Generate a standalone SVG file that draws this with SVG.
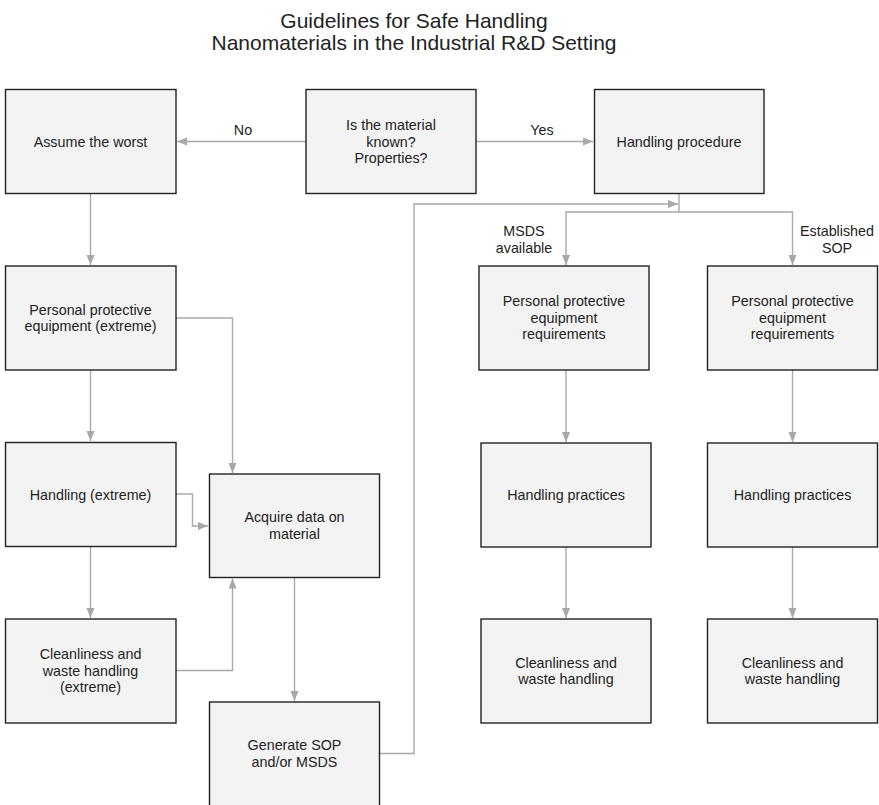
<svg xmlns="http://www.w3.org/2000/svg" width="879" height="805" viewBox="0 0 879 805">
<defs>
<style>
.box{fill:#f3f3f3;stroke:#222;stroke-width:1.4}
.t{font-family:"Liberation Sans",Arial,sans-serif;font-size:14.3px;fill:#222;text-anchor:middle}
.title{font-family:"Liberation Sans",Arial,sans-serif;font-size:21px;fill:#222;text-anchor:middle}
.c{fill:none;stroke:#a8a8a8;stroke-width:1.4}
.a{marker-end:url(#ah)}
</style>
<marker id="ah" markerUnits="userSpaceOnUse" markerWidth="11" markerHeight="9" refX="10" refY="4" orient="auto">
<path d="M0,0 L10,4 L0,8 z" fill="#a8a8a8"/>
</marker>
</defs>
<rect width="879" height="805" fill="#fff"/>
<g id="title">
<text class="title" x="414" y="28">Guidelines for Safe Handling</text>
<text class="title" x="414" y="50">Nanomaterials in the Industrial R&amp;D Setting</text>
</g>
<g id="connectors">
<path class="c a" d="M306,141.5 H177"/>
<path class="c a" d="M476,141.5 H593"/>
<path class="c a" d="M90.5,193 V265"/>
<path class="c a" d="M90.5,370 V441"/>
<path class="c a" d="M90.5,546.5 V618"/>
<path class="c a" d="M176,318 H232.5 V473"/>
<path class="c a" d="M176,494 H192.5 V526 H208"/>
<path class="c a" d="M176,670.5 H232.5 V578.5"/>
<path class="c a" d="M294.5,577.5 V701"/>
<path class="c a" d="M379.5,753.5 H414 V204 H678"/>
<path class="c" d="M679,193.5 V212"/>
<path class="c a" d="M679,212 H566 V265"/>
<path class="c a" d="M679,212 H792.5 V265"/>
<path class="c a" d="M566,370 V442"/>
<path class="c a" d="M566,547 V618"/>
<path class="c a" d="M792.5,370 V442"/>
<path class="c a" d="M792.5,547 V618"/>
<text class="t" x="243" y="135">No</text>
<text class="t" x="542" y="135">Yes</text>
<text class="t" x="524" y="236">MSDS</text>
<text class="t" x="524" y="252.5">available</text>
<text class="t" x="837" y="236">Established</text>
<text class="t" x="837" y="252.5">SOP</text>
</g>
<g id="assume_worst">
<rect class="box" x="5.5" y="89.5" width="170.5" height="104"/>
<text class="t" x="90.5" y="146.5">Assume the worst</text>
</g>
<g id="is_known">
<rect class="box" x="306" y="89.5" width="170" height="104"/>
<text class="t" x="391" y="130">Is the material</text>
<text class="t" x="391" y="146.5">known?</text>
<text class="t" x="391" y="163">Properties?</text>
</g>
<g id="handling_procedure">
<rect class="box" x="594.5" y="89.5" width="169.5" height="104"/>
<text class="t" x="679" y="146.5">Handling procedure</text>
</g>
<g id="ppe_extreme">
<rect class="box" x="5.5" y="266" width="170.5" height="104"/>
<text class="t" x="90.5" y="314.5">Personal protective</text>
<text class="t" x="90.5" y="331">equipment (extreme)</text>
</g>
<g id="handling_extreme">
<rect class="box" x="5.5" y="442.5" width="170.5" height="104"/>
<text class="t" x="90.5" y="499.5">Handling (extreme)</text>
</g>
<g id="cleanliness_extreme">
<rect class="box" x="5.5" y="619" width="170.5" height="104"/>
<text class="t" x="90.5" y="659">Cleanliness and</text>
<text class="t" x="90.5" y="675.5">waste handling</text>
<text class="t" x="90.5" y="692">(extreme)</text>
</g>
<g id="acquire_data">
<rect class="box" x="209.5" y="474" width="170" height="103.5"/>
<text class="t" x="294.5" y="522">Acquire data on</text>
<text class="t" x="294.5" y="538.5">material</text>
</g>
<g id="generate_sop">
<rect class="box" x="209.5" y="702" width="170" height="104"/>
<text class="t" x="294.5" y="750">Generate SOP</text>
<text class="t" x="294.5" y="766.5">and/or MSDS</text>
</g>
<g id="ppe_msds">
<rect class="box" x="479" y="266" width="170" height="104"/>
<text class="t" x="564" y="306">Personal protective</text>
<text class="t" x="564" y="322.5">equipment</text>
<text class="t" x="564" y="339">requirements</text>
</g>
<g id="ppe_sop">
<rect class="box" x="707.5" y="266" width="170" height="104"/>
<text class="t" x="792.5" y="306">Personal protective</text>
<text class="t" x="792.5" y="322.5">equipment</text>
<text class="t" x="792.5" y="339">requirements</text>
</g>
<g id="handling_msds">
<rect class="box" x="481" y="443" width="170" height="104"/>
<text class="t" x="566" y="499.5">Handling practices</text>
</g>
<g id="handling_sop">
<rect class="box" x="707.5" y="443" width="170" height="104"/>
<text class="t" x="792.5" y="499.5">Handling practices</text>
</g>
<g id="cleanliness_msds">
<rect class="box" x="481" y="619" width="170" height="104"/>
<text class="t" x="566" y="667.5">Cleanliness and</text>
<text class="t" x="566" y="684">waste handling</text>
</g>
<g id="cleanliness_sop">
<rect class="box" x="707.5" y="619" width="170" height="104"/>
<text class="t" x="792.5" y="667.5">Cleanliness and</text>
<text class="t" x="792.5" y="684">waste handling</text>
</g>
</svg>
